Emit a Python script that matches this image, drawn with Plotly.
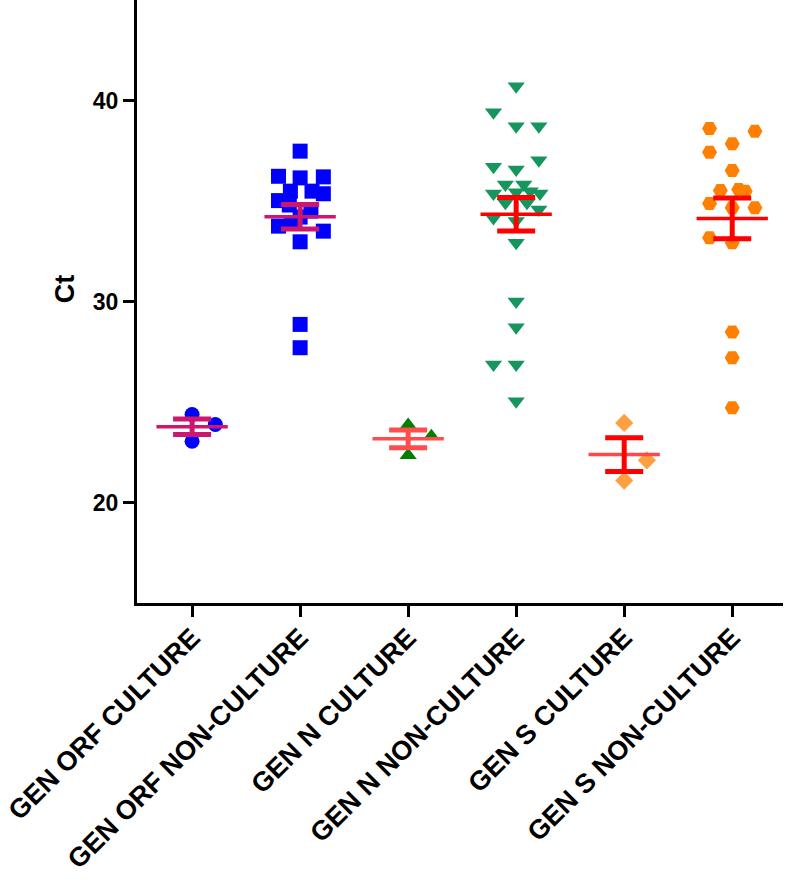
import numpy as np
import plotly.graph_objects as go

categories = ["GEN ORF CULTURE", "GEN ORF NON-CULTURE", "GEN N CULTURE",
              "GEN N NON-CULTURE", "GEN S CULTURE", "GEN S NON-CULTURE"]

orf_culture = [24.38, 23.05, 23.88]
orf_culture_jit = [0.0, 0.0, 0.215]

orf_nonculture = [37.48, 36.23, 36.15, 36.2, 35.49, 35.49, 35.36, 35.02, 34.8, 34.5,
                  34.2, 33.9, 33.75, 33.5, 32.97, 28.86, 27.7]
orf_nonculture_jit = [0.0, -0.2, 0.0, 0.215, -0.09, 0.11, 0.215, -0.2, -0.1, 0.1,
                      0.0, -0.08, -0.2, 0.215, 0.0, 0.0, 0.0]

n_culture = [23.85, 23.3, 22.35]
n_culture_jit = [0.0, 0.215, 0.0]

n_nonculture = [40.71, 39.42, 38.72, 38.72, 37.03, 36.70, 36.57, 35.82, 35.82, 35.37,
                35.44, 35.49, 35.37, 34.91, 34.91, 34.58, 34.16, 34.0, 32.92, 30.0,
                28.72, 26.87, 26.87, 25.04]
n_nonculture_jit = [0.0, -0.21, 0.0, 0.21, 0.21, -0.21, 0.0, -0.1, 0.07, -0.21,
                    0.0, 0.13, 0.22, -0.1, 0.1, 0.21, -0.21, 0.0, 0.0, 0.0,
                    0.0, -0.21, 0.0, 0.0]

s_culture = [23.96, 22.10, 21.09]
s_culture_jit = [0.0, 0.21, 0.0]

s_nonculture = [38.61, 38.47, 37.85, 37.43, 36.52, 35.52, 35.57, 35.49, 34.88, 34.66,
                34.66, 33.17, 32.92, 28.48, 27.2, 24.71]
s_nonculture_jit = [-0.21, 0.21, 0.0, -0.21, 0.0, -0.11, 0.06, 0.12, -0.21, 0.0,
                    0.21, -0.21, 0.0, 0.0, 0.0, 0.0]

groups = [orf_culture, orf_nonculture, n_culture, n_nonculture, s_culture, s_nonculture]
jitters = [orf_culture_jit, orf_nonculture_jit, n_culture_jit, n_nonculture_jit,
           s_culture_jit, s_nonculture_jit]

symbols = ["circle", "square", "triangle-up", "triangle-down", "diamond", "hexagon2"]
point_colors = ["#0000FF", "#0000FF", "#008000", "#16965E", "#FFA040", "#FF8000"]
point_sizes = [15, 15, 15, 15, 14, 15]
mean_colors = ["#CC1670", "#CC1670", "#FF4D4D", "#FF0000", "#FF4848", "#FF0000"]
err_colors = ["#CC1670", "#CC1670", "#FF4D4D", "#FF0000", "#FF0000", "#FF0000"]

fig = go.Figure()

for i, (vals, jit) in enumerate(zip(groups, jitters)):
    fig.add_trace(go.Scatter(
        x=[i + j for j in jit], y=vals, mode="markers",
        marker=dict(symbol=symbols[i], color=point_colors[i], size=point_sizes[i],
                    line=dict(width=0)),
        showlegend=False, hoverinfo="y"))

for i, vals in enumerate(groups):
    arr = np.array(vals)
    m = arr.mean()
    sem = arr.std(ddof=1) / np.sqrt(len(arr))
    fig.add_trace(go.Scatter(
        x=[i - 0.33, i + 0.33], y=[m, m], mode="lines",
        line=dict(color=mean_colors[i], width=3.5),
        showlegend=False, hoverinfo="skip"))
    fig.add_trace(go.Scatter(
        x=[i], y=[m], mode="markers", marker=dict(size=1, color="rgba(0,0,0,0)"),
        error_y=dict(type="data", array=[sem], visible=True, color=err_colors[i],
                     thickness=5, width=19),
        showlegend=False, hoverinfo="skip"))

font_family = "Arial, Liberation Sans, Helvetica, sans-serif"

fig.update_layout(
    width=790, height=884,
    margin=dict(l=137, r=7, t=0, b=281),
    paper_bgcolor="white", plot_bgcolor="white",
    font=dict(family=font_family, color="black"),
    xaxis=dict(
        range=[-0.51, 5.47], tickmode="array", tickvals=list(range(len(categories))),
        ticktext=categories, tickangle=-45, ticklabeloverflow="allow",
        ticklabelstandoff=-6,
        tickfont=dict(size=27, family=font_family, weight="bold", color="black"),
        ticks="outside", ticklen=11, tickwidth=3, tickcolor="black",
        showline=True, linewidth=3, linecolor="black",
        showgrid=False, zeroline=False, automargin=False),
    yaxis=dict(
        range=[15, 45], tickmode="array", tickvals=[20, 30, 40],
        tickfont=dict(size=23, family=font_family, weight="bold", color="black"),
        ticks="outside", ticklen=11, tickwidth=3, tickcolor="black",
        showline=True, linewidth=3, linecolor="black",
        showgrid=False, zeroline=False, automargin=False),
    annotations=[dict(
        text="Ct", xref="paper", yref="paper", x=-0.111, y=0.521,
        xanchor="center", yanchor="middle", textangle=-90, showarrow=False,
        font=dict(size=27, family=font_family, weight="bold", color="black"))],
)

fig.write_html("out.html", config={"displayModeBar": False},
               post_script="document.body.style.margin='0';document.body.style.padding='0';")
